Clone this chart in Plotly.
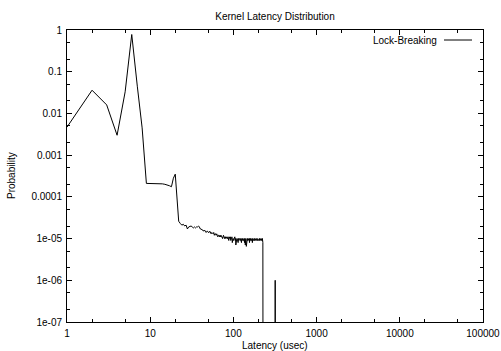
import plotly.graph_objects as go

# ---- data -----------------------------------------------------------
# probabilities for latency bins 1..22 usec
head_latency = list(range(1, 23))
head_probability = [4.7e-3, 3.6e-2, 1.6e-2, 3.0e-3, 3.3e-2, 0.78, 4.5e-2, 4.5e-3,
                    2.1e-4, 2.1e-4, 2.1e-4, 2.1e-4, 2.05e-4, 2.05e-4, 2.0e-4,
                    1.95e-4, 1.85e-4, 1.75e-4, 2.8e-4, 3.5e-4, 9.0e-5, 2.6e-5]

# probabilities (per million) for latency bins 23..226 usec
tail_latency = list(range(23, 227))
tail_per_million = [
    23, 21, 22, 20, 21, 17, 19, 20,
    20, 19, 18, 19, 18, 19, 19, 20, 19, 17,
    17, 16, 16, 15, 16, 15, 14, 15, 15, 14,
    14, 15, 14, 13, 14, 13, 13, 14, 12, 13,
    13, 12, 13, 12, 11, 12, 12, 11, 12, 11,
    12, 11, 11, 10, 11, 12, 11, 10, 11, 11,
    10, 11, 11, 10, 10, 11, 10, 9, 11, 10,
    10, 11, 9, 10, 10, 11, 8, 10, 10, 9,
    10, 9, 10, 11, 9, 10, 7, 10, 9, 10,
    10, 9, 10, 8, 10, 9, 10, 10, 9, 10,
    9, 10, 9, 10, 8, 10, 9, 9, 10, 9,
    10, 9, 9, 10, 9, 8, 10, 9, 7, 9,
    10, 9, 6.5, 10, 9, 7, 10, 9, 9, 10,
    9, 10, 9, 9, 10, 8, 9, 10, 9, 9,
    10, 9, 9, 10, 9, 9, 10, 9, 8, 9,
    10, 9, 9, 9, 10, 9, 9, 10, 9, 9,
    9, 10, 9, 9, 10, 9, 9, 9, 10, 9,
    9, 10, 9, 9, 9, 10, 9, 9, 10, 9,
    9, 9, 10, 9, 9, 10, 9, 9, 9, 10,
    9, 9, 10, 9, 9, 9, 10, 9, 9, 10,
    9, 9, 10, 9, 9, 8,
]

# sparse outlier region (near-zero bins drawn below the axis floor)
outlier_latency = [227, 317, 318, 319]
outlier_probability = [1e-9, 1e-9, 1e-6, 1e-9]

latency = head_latency + tail_latency + outlier_latency
probability = head_probability + [v * 1e-6 for v in tail_per_million] + outlier_probability

x_tickvals = [1, 10, 100, 1000, 10000, 100000]
x_ticktext = ["1", "10", "100", "1000", "10000", "100000"]
y_tickvals = [1, 0.1, 0.01, 0.001, 0.0001, 1e-5, 1e-6, 1e-7]
y_ticktext = ["1", "0.1", "0.01", "0.001", "0.0001", "1e-05", "1e-06", "1e-07"]
x_minor = [m * 10 ** d for d in range(0, 5) for m in (2, 5)]
y_minor = [m * 10.0 ** d for d in range(-7, 0) for m in (2, 5)]

series_name = "Lock-Breaking"

# ---- figure -----------------------------------------------------------
FONT = "Liberation Sans"
W, H = 501, 351
L, R, T, B = 67, 18, 30, 29
PW, PH = W - L - R, H - T - B

fig = go.Figure()
fig.add_trace(go.Scatter(x=latency, y=probability, mode="lines",
                         line=dict(color="black", width=1), name=series_name,
                         showlegend=False))

axis_common = dict(showline=True, linecolor="black", linewidth=1, mirror="allticks",
                   ticks="inside", ticklen=5, tickcolor="black", showgrid=False,
                   zeroline=False, automargin=False,
                   tickfont=dict(family=FONT, size=10, color="black"))

fig.update_xaxes(type="log", range=[0, 5], tickmode="array", tickvals=x_tickvals,
                 ticktext=x_ticktext, ticklabelstandoff=2,
                 minor=dict(tickmode="array", tickvals=x_minor, ticks="inside",
                            ticklen=3, tickcolor="black", showgrid=False),
                 **axis_common)
fig.update_yaxes(type="log", range=[-7, 0], tickmode="array", tickvals=y_tickvals,
                 ticktext=y_ticktext, ticklabelstandoff=2,
                 minor=dict(tickmode="array", tickvals=y_minor, ticks="inside",
                            ticklen=3, tickcolor="black", showgrid=False),
                 **axis_common)

txt = dict(family=FONT, size=10, color="black")
# axis titles
fig.add_annotation(text="Latency (usec)", xref="paper", yref="paper", x=0.5,
                   y=-(345 - (T + PH)) / PH, xanchor="center", yanchor="middle",
                   showarrow=False, font=txt)
fig.add_annotation(text="Probability", xref="paper", yref="paper", x=-(L - 11) / PW,
                   y=0.5, xanchor="center", yanchor="middle", textangle=-90,
                   showarrow=False, font=txt)

# gnuplot-style key: text then line sample on the right
ky = 1 - (40 - T) / PH
fig.add_annotation(text=series_name, xref="paper", yref="paper", x=(439 - L) / PW,
                   y=ky, xanchor="right", yanchor="middle",
                   showarrow=False, font=txt)
fig.add_shape(type="line", xref="paper", yref="paper", x0=(444 - L) / PW,
              x1=(472 - L) / PW, y0=ky, y1=ky, line=dict(color="black", width=1))

fig.update_layout(
    width=W, height=H,
    margin=dict(l=L, r=R, t=T, b=B, autoexpand=False),
    paper_bgcolor="white", plot_bgcolor="white",
    title=dict(text="Kernel Latency Distribution", x=0.5, xref="paper",
               y=1 - 16 / H, yref="container", yanchor="middle", xanchor="center",
               font=txt),
)

fig.write_html("out.html")
